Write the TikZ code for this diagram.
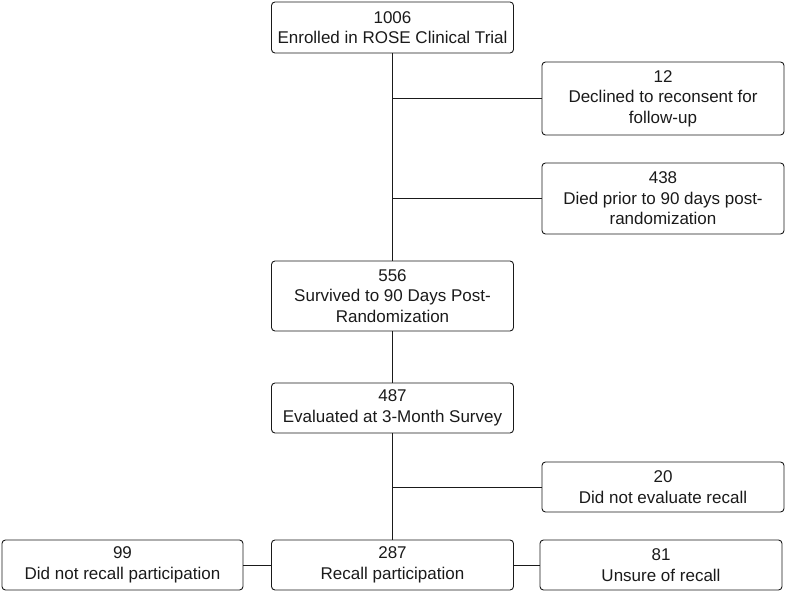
\documentclass[tikz,border=0pt]{standalone}
\usepackage{fontspec}
\setmainfont{Liberation Sans}
\definecolor{ink}{HTML}{1a1a1a}
\begin{document}
\begin{tikzpicture}[x=1pt,y=-1pt,
  box/.style={draw=ink,line width=0.9pt,rounded corners=3.5pt,align=center,
    minimum width=242pt,inner sep=0pt,text=ink,
    font=\fontsize{17}{20.5}\selectfont},
  link/.style={draw=ink,line width=0.9pt}]
\useasboundingbox (0,0) rectangle (787,593);
\node[box,minimum height=51pt] (top) at (392.5,27.5) {1006\\Enrolled in ROSE Clinical Trial};
\node[box,minimum height=73pt] (d12) at (663,98.5) {12\\Declined to reconsent for\\follow-up};
\node[box,minimum height=71pt] (d438) at (663,198.5) {438\\Died prior to 90 days post-\\randomization};
\node[box,minimum height=70pt] (s556) at (392.5,296) {556\\Survived to 90 Days Post-\\Randomization};
\node[box,minimum height=50pt] (e487) at (392.5,408) {487\\Evaluated at 3-Month Survey};
\node[box,minimum height=50pt] (n20) at (663,487) {20\\Did not evaluate recall};
\node[box,minimum height=50pt,minimum width=241pt] (b99) at (122.5,565) {99\\Did not recall participation};
\node[box,minimum height=50pt] (r287) at (392.5,565) {287\\Recall participation};
\node[box,minimum height=50pt] (u81) at (661,565) {81\\Unsure of recall};
\draw[link] (top.south) -- (s556.north);
\draw[link] (top.south |- d12.west) -- (d12.west);
\draw[link] (top.south |- d438.west) -- (d438.west);
\draw[link] (s556.south) -- (e487.north);
\draw[link] (e487.south) -- (r287.north);
\draw[link] (e487.south |- n20.west) -- (n20.west);
\draw[link] (b99.east) -- (r287.west);
\draw[link] (r287.east) -- (u81.west);
\end{tikzpicture}
\end{document}
